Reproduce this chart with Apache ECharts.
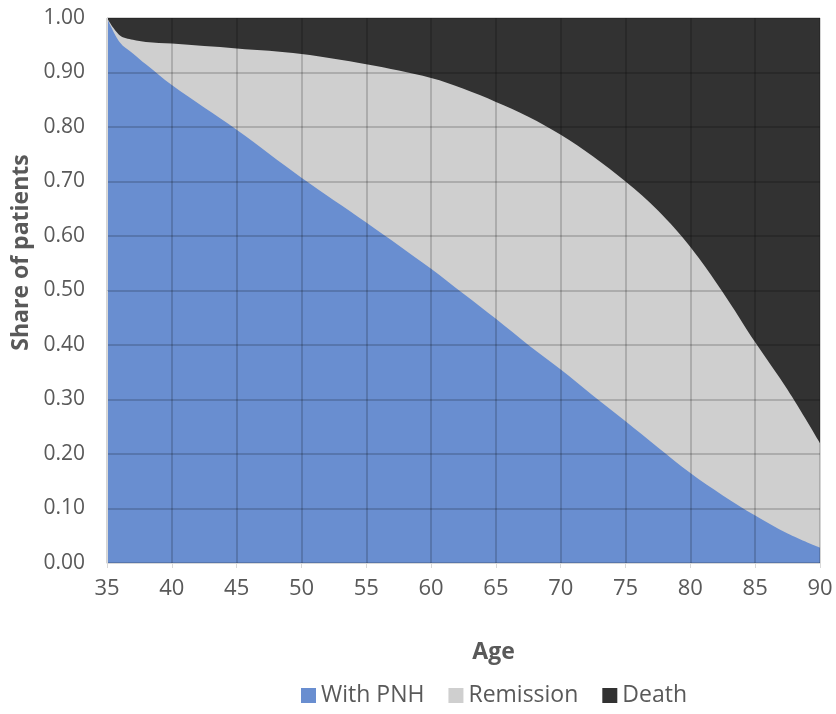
<!DOCTYPE html>
<html>
<head>
<meta charset="utf-8">
<script src="https://cdn.jsdelivr.net/npm/echarts@6/dist/echarts.min.js"></script>
<style>
  html, body { margin: 0; padding: 0; background: #fff; }
  #chart { width: 836px; height: 714px; }
</style>
</head>
<body>
<div id="chart"></div>
<script>
// ages
var ages = [35, 36, 37, 38, 40, 45, 50, 55, 60, 62.5, 65, 67.5, 70, 72.5, 75, 77.5, 80, 82.5, 85, 87.5, 90];
// share still with PNH
var withPNH = [1.00, 0.955, 0.935, 0.915, 0.877, 0.795, 0.707, 0.625, 0.540, 0.494, 0.448, 0.400, 0.355, 0.307, 0.260, 0.212, 0.165, 0.124, 0.087, 0.054, 0.028];
// share in remission
var remission = [0.000, 0.013, 0.025, 0.041, 0.076, 0.149, 0.227, 0.290, 0.350, 0.376, 0.398, 0.419, 0.431, 0.439, 0.440, 0.435, 0.415, 0.373, 0.318, 0.264, 0.192];
// share dead
var death = [0.000, 0.032, 0.040, 0.044, 0.047, 0.056, 0.066, 0.085, 0.110, 0.130, 0.154, 0.181, 0.214, 0.254, 0.300, 0.353, 0.420, 0.503, 0.595, 0.682, 0.780];

var names = ['With PNH', 'Remission', 'Death'];
var colors = ['#698ed0', '#cfcfcf', '#323232'];
var values = [withPNH, remission, death];

// stack by hand (value x axis), cumulative tops
var tops = [];
var run = ages.map(function () { return 0; });
values.forEach(function (arr) {
    run = run.map(function (v, i) { return v + arr[i]; });
    tops.push(run.slice());
});

var font = '"Open Sans", "Noto Sans", sans-serif';
var textColor = '#595959';

var chart = echarts.init(document.getElementById('chart'));

var series = names.map(function (name, k) {
    return {
        name: name,
        type: 'line',
        z: 2 + (names.length - k), // lower bands drawn in front
        showSymbol: false,
        symbol: 'none',
        smooth: 0.35,
        lineStyle: { width: 0 },
        areaStyle: { color: colors[k], opacity: 1, origin: 'start' },
        itemStyle: { color: colors[k] },
        data: ages.map(function (a, i) { return [a, tops[k][i]]; })
    };
});

chart.setOption({
    animation: false,
    color: colors,
    grid: { left: 107, right: 16, top: 18, bottom: 151 },
    xAxis: {
        type: 'value',
        min: 35,
        max: 90,
        interval: 5,
        z: 10,
        name: 'Age',
        nameLocation: 'middle',
        nameGap: 78,
        nameTextStyle: { fontFamily: font, fontSize: 23, fontWeight: 'bold', color: textColor, padding: [0, 0, 0, 60] },
        axisLine: { show: true, lineStyle: { color: '#d9d9d9', width: 1 } },
        axisTick: { show: true, length: 5, lineStyle: { color: '#d9d9d9' } },
        axisLabel: { fontFamily: font, fontSize: 22, color: textColor, margin: 15 },
        splitLine: { show: true, lineStyle: { color: 'rgba(0,0,0,0.17)', width: 2 } }
    },
    yAxis: {
        type: 'value',
        min: 0,
        max: 1,
        interval: 0.1,
        z: 10,
        name: 'Share of patients',
        nameLocation: 'middle',
        nameGap: 72,
        nameTextStyle: { fontFamily: font, fontSize: 23, fontWeight: 'bold', color: textColor, padding: [0, 0, 0, 76] },
        axisLine: { show: true, lineStyle: { color: '#d9d9d9', width: 1 } },
        axisTick: { show: false },
        axisLabel: {
            fontFamily: font, fontSize: 21, color: textColor, margin: 22,
            formatter: function (v) { return v.toFixed(2); }
        },
        splitLine: { show: true, lineStyle: { color: 'rgba(0,0,0,0.17)', width: 2 } }
    },
    legend: {
        bottom: 2,
        left: 296,
        icon: 'rect',
        itemWidth: 15,
        itemHeight: 15,
        itemGap: 24,
        textStyle: { fontFamily: font, fontSize: 23, color: textColor },
        data: names
    },
    series: series
});
</script>
</body>
</html>
